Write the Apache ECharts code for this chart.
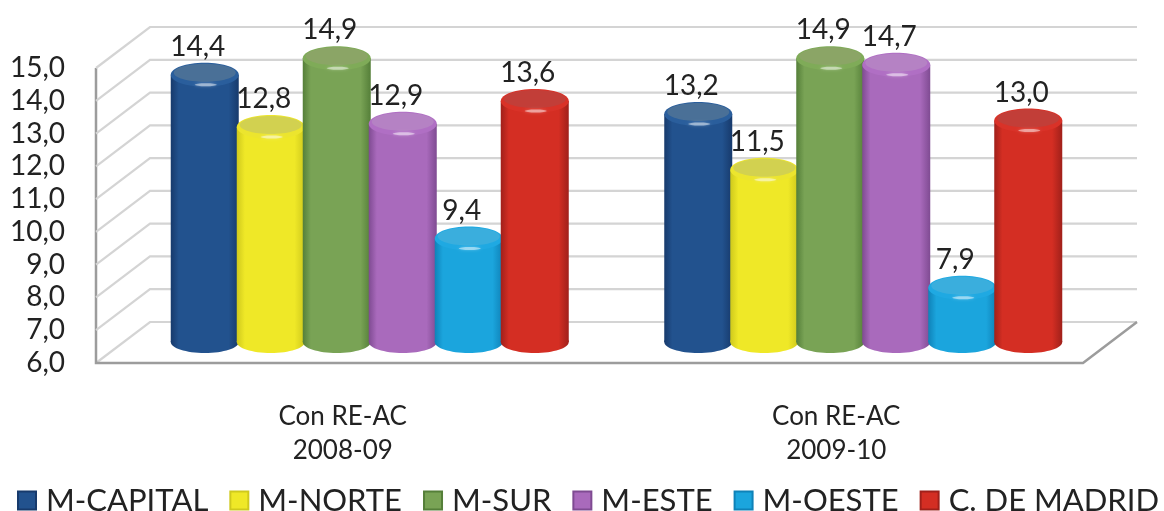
<!DOCTYPE html>
<html>
<head>
<meta charset="utf-8">
<style>
  html, body { margin: 0; padding: 0; background: #fff; }
  #chart { width: 1164px; height: 511px; }
</style>
<script src="https://cdn.jsdelivr.net/npm/echarts@6/dist/echarts.min.js"></script>
</head>
<body>
<div id="chart"></div>
<script>
const categories = ['Con RE-AC\n2008-09', 'Con RE-AC\n2009-10'];
const seriesNames = ['M-CAPITAL', 'M-NORTE', 'M-SUR', 'M-ESTE', 'M-OESTE', 'C. DE MADRID'];
const mCapital = [14.4, 13.2];
const mNorte = [12.8, 11.5];
const mSur = [14.9, 14.9];
const mEste = [12.9, 14.7];
const mOeste = [9.4, 7.9];
const cMadrid = [13.6, 13.0];
const wallTicks = [6, 7, 8, 9, 10, 11, 12, 13, 14, 15];

// edge, body, cap, rim
const palette = [
    ['#173a6c', '#22528e', '#4a7097', '#2a5e9c'],
    ['#cfc91d', '#efe827', '#d2d150', '#ece52e'],
    ['#557f39', '#79a355', '#8ba566', '#7fab58'],
    ['#7f4b92', '#a96abc', '#b582c4', '#b06fc4'],
    ['#0f82b8', '#1ba5dd', '#3aaedd', '#1fa9e2'],
    ['#a0201a', '#d42e23', '#c23e38', '#d93228']
];

const FONT = 'Lato, "Liberation Sans", sans-serif';
const DEPTH_X = 54, DEPTH_Y = 41;   // fondo 3D
const BAR_STEP = 66, BAR_RX = 34, CAP_RY = 11;

function fmt(v) {
    return v.toFixed(1).replace('.', ',');
}

// paredes y lineas de la rejilla
function renderWall(params, api) {
    const g = params.coordSys;
    const v = api.value(0);
    const y = api.coord([0, v])[1];
    const left = g.x, right = g.x + g.width;
    const children = [
        {
            type: 'polyline',
            shape: { points: [[left, y], [left + DEPTH_X, y - DEPTH_Y], [right + DEPTH_X, y - DEPTH_Y]] },
            style: { fill: 'none', stroke: '#d4d4d4', lineWidth: 2.2 }
        }
    ];
    if (v === wallTicks[0]) {
        children.push({
            type: 'polyline',
            shape: { points: [[left, g.y], [left, y], [right, y], [right + DEPTH_X, y - DEPTH_Y]] },
            style: { fill: 'none', stroke: '#9c9c9c', lineWidth: 2.5 }
        });
    }
    return { type: 'group', children: children };
}

function cylinder(index) {
    return function (params, api) {
        const top = api.coord([api.value(0), api.value(1)]);
        const base = api.coord([api.value(0), wallTicks[0]]);
        const cx = top[0] + 27 + (index - 2.5) * BAR_STEP;
        const topY = top[1] - 13;
        const baseY = base[1] - 21;
        const c = palette[index];
        const side = new echarts.graphic.LinearGradient(0, 0, 1, 0, [
            { offset: 0, color: c[0] },
            { offset: 0.12, color: c[1] },
            { offset: 0.85, color: c[1] },
            { offset: 1, color: c[0] }
        ]);
        const z = index + 1;
        return {
            type: 'group',
            children: [
                { type: 'ellipse', z2: z, shape: { cx: cx, cy: baseY, rx: BAR_RX, ry: CAP_RY }, style: { fill: side } },
                { type: 'rect', z2: z, shape: { x: cx - BAR_RX, y: topY, width: BAR_RX * 2, height: baseY - topY }, style: { fill: side } },
                { type: 'ellipse', z2: z, shape: { cx: cx, cy: topY, rx: BAR_RX, ry: CAP_RY + 1 }, style: { fill: c[3] } },
                { type: 'ellipse', z2: z, shape: { cx: cx, cy: topY - 2, rx: BAR_RX - 3, ry: CAP_RY - 2 }, style: { fill: c[2] } },
                {
                    type: 'ellipse', z2: z,
                    shape: { cx: cx + 1, cy: topY + CAP_RY - 1, rx: 11, ry: 1.5 },
                    style: { fill: 'rgba(255,255,255,0.45)', shadowBlur: 3, shadowColor: 'rgba(255,255,255,0.6)' }
                },
                {
                    type: 'text', z2: 50,
                    style: {
                        text: fmt(api.value(1)), x: cx - 7, y: topY - 28,
                        align: 'center', verticalAlign: 'middle',
                        font: '28px ' + FONT, fill: '#222'
                    }
                }
            ]
        };
    };
}

const values = [mCapital, mNorte, mSur, mEste, mOeste, cMadrid];
const barSeries = seriesNames.map(function (name, i) {
    return {
        name: name,
        type: 'custom',
        renderItem: cylinder(i),
        clip: false,
        itemStyle: { color: palette[i][1] },
        encode: { x: 0, y: 1 },
        data: values[i].map(function (v, k) { return [k, v]; })
    };
});

const options = {
    animation: false,
    backgroundColor: '#fff',
    grid: { left: 96, right: 81, top: 68, bottom: 148 },
    legend: {
        data: seriesNames.map(function (name, i) {
            return {
                name: name,
                icon: 'rect',
                itemStyle: {
                    color: palette[i][1],
                    borderColor: palette[i][0],
                    borderWidth: 2
                }
            };
        }),
        left: 12,
        top: 480,
        width: 1150,
        itemWidth: 18,
        itemHeight: 18,
        itemGap: 21,
        textStyle: { fontFamily: FONT, fontSize: 31, color: '#222', padding: [0, 0, 0, 5] }
    },
    xAxis: {
        type: 'category',
        data: categories,
        axisLine: { show: false },
        axisTick: { show: false },
        axisLabel: {
            fontFamily: FONT, fontSize: 26, color: '#222',
            lineHeight: 34, margin: 37
        }
    },
    yAxis: {
        type: 'value',
        min: 6,
        max: 15,
        interval: 1,
        axisLine: { show: false },
        axisTick: { show: false },
        splitLine: { show: false },
        axisLabel: {
            fontFamily: FONT, fontSize: 28, color: '#222', margin: 31,
            padding: [3, 0, 0, 0],
            formatter: fmt
        }
    },
    series: [
        {
            type: 'custom',
            name: 'rejilla',
            renderItem: renderWall,
            clip: false,
            silent: true,
            z: 1,
            encode: { y: 0 },
            data: wallTicks.map(function (t) { return [t]; })
        }
    ].concat(barSeries)
};

const E = echarts.init(document.getElementById('chart'));
window.onresize = function () {
    E.resize();
};
E.setOption(options);
</script>
</body>
</html>
